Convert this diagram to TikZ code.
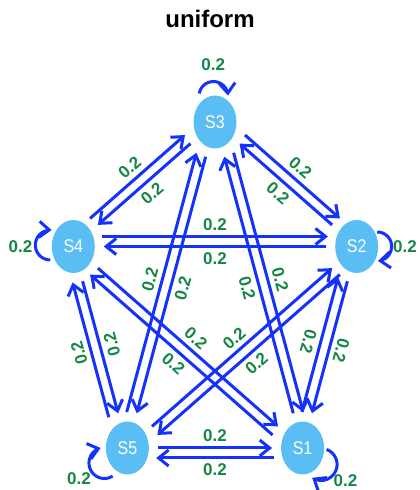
\documentclass[tikz,border=0pt]{standalone}
\usepackage{fontspec}
\usepackage{graphicx}
\setmainfont{Liberation Sans}
\usetikzlibrary{calc,arrows.meta,shapes.geometric,bending}
\definecolor{edgeblue}{RGB}{20,50,250}
\definecolor{nodefill}{RGB}{90,190,245}
\definecolor{weightgreen}{RGB}{20,135,70}

\begin{document}
\begin{tikzpicture}[x=1pt,y=1pt,
  state/.style={ellipse, fill=nodefill, minimum width=43pt, minimum height=53pt,
    inner sep=0pt, text=white, font=\fontsize{16}{16}\selectfont},
  edge/.style={draw=edgeblue, line width=3pt,
    -{Straight Barb[length=10pt,width=16pt]}},
  wlabel/.style={text=weightgreen, font=\bfseries\fontsize{17}{17}\selectfont, inner sep=0pt},
  heading/.style={font=\bfseries\fontsize{24}{24}\selectfont}
]
\useasboundingbox (0,0) rectangle (420,490);

\node[heading] (title) at (210,471) {uniform};

% states on a stretched pentagon
\node[state] (S3) at (215,368)   {\scalebox{1}[1.15]{S3}};
\node[state] (S2) at (356.7,243.5) {\scalebox{1}[1.15]{S2}};
\node[state] (S1) at (302.6,42)  {\scalebox{1}[1.15]{S1}};
\node[state] (S5) at (127.4,42)  {\scalebox{1}[1.15]{S5}};
\node[state] (S4) at (73.3,243.5) {\scalebox{1}[1.15]{S4}};

% transitions: one arrow of each pair runs through the centres,
% the other is offset to its left by \s; weight sits to the left of its arrow,
% turned by \f extra degrees on the two steep side pairs
\foreach \a/\b/\s/\f in {S4/S2/10/0, S2/S4/0/0, S1/S5/10/0, S5/S1/0/0,
    S4/S3/10/0, S3/S4/0/0, S3/S2/10/0, S2/S3/0/0, S5/S4/10/180, S4/S5/0/180,
    S1/S2/10/180, S2/S1/0/180, S5/S3/10/0, S3/S5/0/0, S3/S1/10/0, S1/S3/0/0,
    S1/S4/10/0, S4/S1/0/0, S2/S5/10/0, S5/S2/0/0}{
  \draw[edge] let \p1=($(\b)-(\a)$), \n1={veclen(\x1,\y1)}, \n2={atan2(\y1,\x1)},
      \n3={30.5*36.5/sqrt((36.5*cos(\n2))^2+(30.5*sin(\n2))^2)},
      \n4={sqrt(\n3*\n3-\s*\s)},
      \n5={(\n2>90 ? \n2-180 : (\n2<-90 ? \n2+180 : \n2)) + \f},
      \n6={\s+12}
    in ($(\a)!0.5!(\b)+({-\n6*\y1/\n1},{\n6*\x1/\n1})$) node[wlabel, rotate=\n5] {0.2}
       ($(\a)+({(-\s*\y1+\n4*\x1)/\n1},{(\s*\x1+\n4*\y1)/\n1})$)
    -- ($(\b)+({(-\s*\y1-\n4*\x1)/\n1},{(\s*\x1-\n4*\y1)/\n1})$);
}

% self transitions
\foreach \n/\cx/\cy/\r/\sa/\ea/\lx/\ly in {
    S3/-1.5/26/14.5/170/2/-1.7/57,
    S4/-23/1.5/15/270/85/-52.8/-0.2,
    S2/20.5/0/14.5/90/-87/48.3/-0.2,
    S5/-23/-15/15.5/-58/-256/-48.4/-31,
    S1/18.5/-16.5/16/70/-124/42.9/-32.5}{
  \draw[edge] ($(\n)+(\cx,\cy)+(\sa:\r)$) arc[start angle=\sa, end angle=\ea, radius=\r];
  \node[wlabel] (w\n) at ($(\n)+(\lx,\ly)$) {0.2};
}
\end{tikzpicture}
\end{document}
